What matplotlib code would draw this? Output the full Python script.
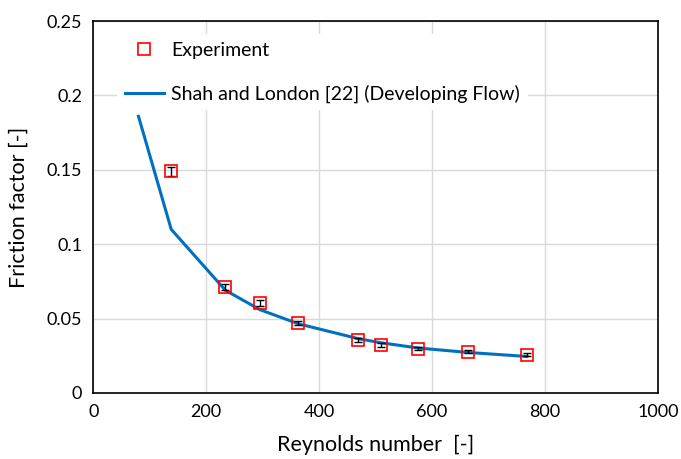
import matplotlib.pyplot as plt

plt.rcParams['font.family'] = ['Lato', 'DejaVu Sans']

# experimental data
re_exp = [138, 234, 295, 363, 469, 510, 575, 664, 768]
f_exp = [0.149, 0.0712, 0.0605, 0.047, 0.0356, 0.0323, 0.0296, 0.0276, 0.0255]
f_err = [0.003, 0.002, 0.002, 0.0015, 0.0012, 0.0012, 0.001, 0.001, 0.001]

# Shah and London correlation
re_sl = [80, 138, 234, 295, 363, 469, 510, 575, 664, 768]
f_sl = [0.186, 0.110, 0.069, 0.056, 0.0465, 0.0365, 0.0337, 0.0302, 0.0272, 0.0245]

fig, ax = plt.subplots(figsize=(6.81, 4.59), dpi=100)
fig.subplots_adjust(left=0.137, right=0.966, top=0.954, bottom=0.144)

ax.plot(re_sl, f_sl, color='#0070c0', lw=2.2, label='Shah and London [22] (Developing Flow)', zorder=3)
ax.errorbar(re_exp, f_exp, yerr=f_err, fmt='none', ecolor='black', elinewidth=1, capsize=3, zorder=4)
ax.plot(re_exp, f_exp, 's', ms=8, mfc='none', mec='red', mew=1.2, label='Experiment', zorder=5)

ax.set_xlim(0, 1000)
ax.set_ylim(0, 0.25)
ax.set_xticks([0, 200, 400, 600, 800, 1000])
ax.set_yticks([0, 0.05, 0.1, 0.15, 0.2, 0.25])
ax.set_yticklabels(['0', '0.05', '0.1', '0.15', '0.2', '0.25'])
ax.grid(color='#d9d9d9', lw=1)
ax.set_axisbelow(True)
for s in ax.spines.values():
    s.set_color('black')
    s.set_linewidth(1.2)
ax.tick_params(length=0, labelsize=13, pad=8)
ax.set_xlabel('Reynolds number  [-]', fontsize=15.5, labelpad=11)
ax.set_ylabel('Friction factor [-]', fontsize=15.5)
ax.yaxis.set_label_coords(-0.115, 0.5)

h, l = ax.get_legend_handles_labels()
leg = ax.legend(h[::-1], l[::-1], loc='upper left', bbox_to_anchor=(0.035, 0.975), frameon=True,
                fontsize=14, handlelength=2.0, handletextpad=0.4, labelspacing=1.3, borderaxespad=0.2)
leg.get_frame().set_edgecolor('none')
leg.get_frame().set_facecolor('white')
leg.get_frame().set_alpha(1)

fig.savefig('out.png', dpi=100)
